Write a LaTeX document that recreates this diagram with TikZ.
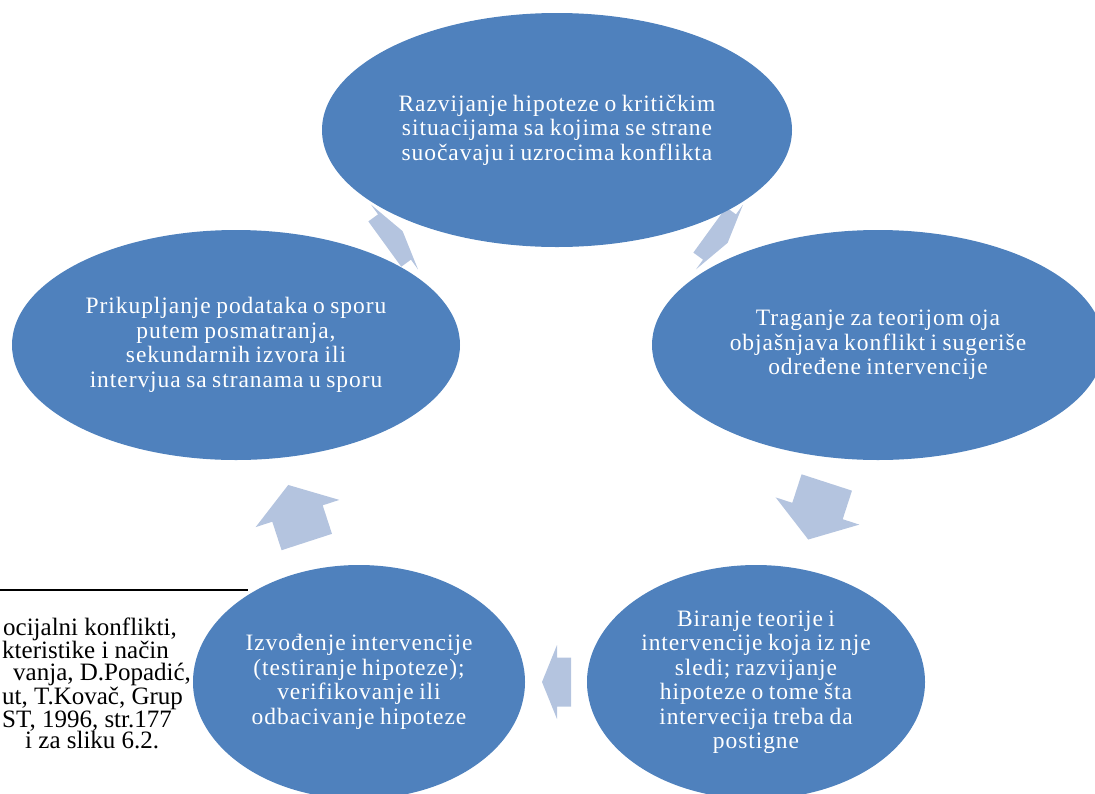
\documentclass[tikz,border=0pt]{standalone}
\usepackage{fontspec}
\setmainfont{Liberation Serif}
\newfontfamily\ellfont{Liberation Serif}[LetterSpace=4.0,WordSpace=0.8]
\usetikzlibrary{shapes.geometric}
\definecolor{nodeblue}{HTML}{4F81BD}
\definecolor{arrowblue}{HTML}{B4C4DF}
\tikzset{
  stage/.style={ellipse, fill=nodeblue, draw=none, text=white, align=center,
    inner sep=0pt, font=\ellfont\fontsize{23.5}{24.5}\selectfont},
  fnote/.style={anchor=base west, inner sep=0pt, align=left, font=\fontsize{25}{21.5}\selectfont},
  cyclearrow/.style={fill=arrowblue, draw=none}
}
% #1,#2 centre of head base, #3 angle, #4 head length, #5 shaft length, #6 head half width, #7 shaft half width, #8 name
\newcommand{\cyclearrowshape}[8]{%
  \begin{scope}[shift={(#1,#2)}, rotate=#3]
    \coordinate (#8) at (0,0);
    \fill[cyclearrow] (#4,0) -- (0,#6) -- (0,#7) -- (-#5,#7) -- (-#5,-#7) -- (0,-#7) -- (0,-#6) -- cycle;
  \end{scope}}
\begin{document}
\begin{tikzpicture}[x=1pt, y=-1pt]
  \path[use as bounding box] (0,0) rectangle (1095,793);
  \clip (0,0) rectangle (1095,793);
  % footnote remnant
  \coordinate (fl) at (0,590);
  \coordinate (fr) at (248,590);
  \draw[line width=1.3pt] (fl) -- (fr);
  % anchor base = baseline of the last line
  \node[fnote] (fn) at (2,748.5) {\hspace*{1pt}ocijalni konflikti,\\
    kteristike i način\\
    \hspace*{11pt}vanja, D.Popadić,\\
    ut, T.Kovač, Grup\\
    ST, 1996, str.177\\
    \hspace*{23pt}i za sliku 6.2.};
  % block arrows
  \cyclearrowshape{394.5}{237}{36}{10}{12}{40}{28}{a1}
  \cyclearrowshape{719.5}{237}{-36}{10}{12}{40}{28}{a2}
  \cyclearrowshape{817.5}{511}{-108}{30}{30}{44}{26.5}{a3}
  \cyclearrowshape{557}{682}{180}{15}{14}{37}{24.5}{a4}
  \cyclearrowshape{297.5}{513.5}{108}{30}{30}{44}{26.5}{a5}
  % stages
  \node[stage, minimum width=470, minimum height=234] (top) at (557,130)
    {Razvijanje hipoteze o kritičkim\\ situacijama sa kojima se strane\\ suočavaju i uzrocima konflikta};
  \node[stage, minimum width=452, minimum height=230] (right) at (878,345)
    {Traganje za teorijom oja\\ objašnjava konflikt i sugeriše\\ određene intervencije};
  \node[stage, minimum width=448, minimum height=230] (left) at (236,345)
    {Prikupljanje podataka o sporu\\ putem posmatranja,\\ sekundarnih izvora ili\\ intervjua sa stranama u sporu};
  \node[stage, minimum width=338, minimum height=234] (bright) at (756,682)
    {Biranje teorije i\\ intervencije koja iz nje\\ sledi; razvijanje\\ hipoteze o tome šta\\ intervecija treba da\\ postigne};
  \node[stage, minimum width=332, minimum height=234] (bleft) at (359,682)
    {Izvođenje intervencije\\ (testiranje hipoteze);\\ verifikovanje ili\\ odbacivanje hipoteze};
\end{tikzpicture}
\end{document}
